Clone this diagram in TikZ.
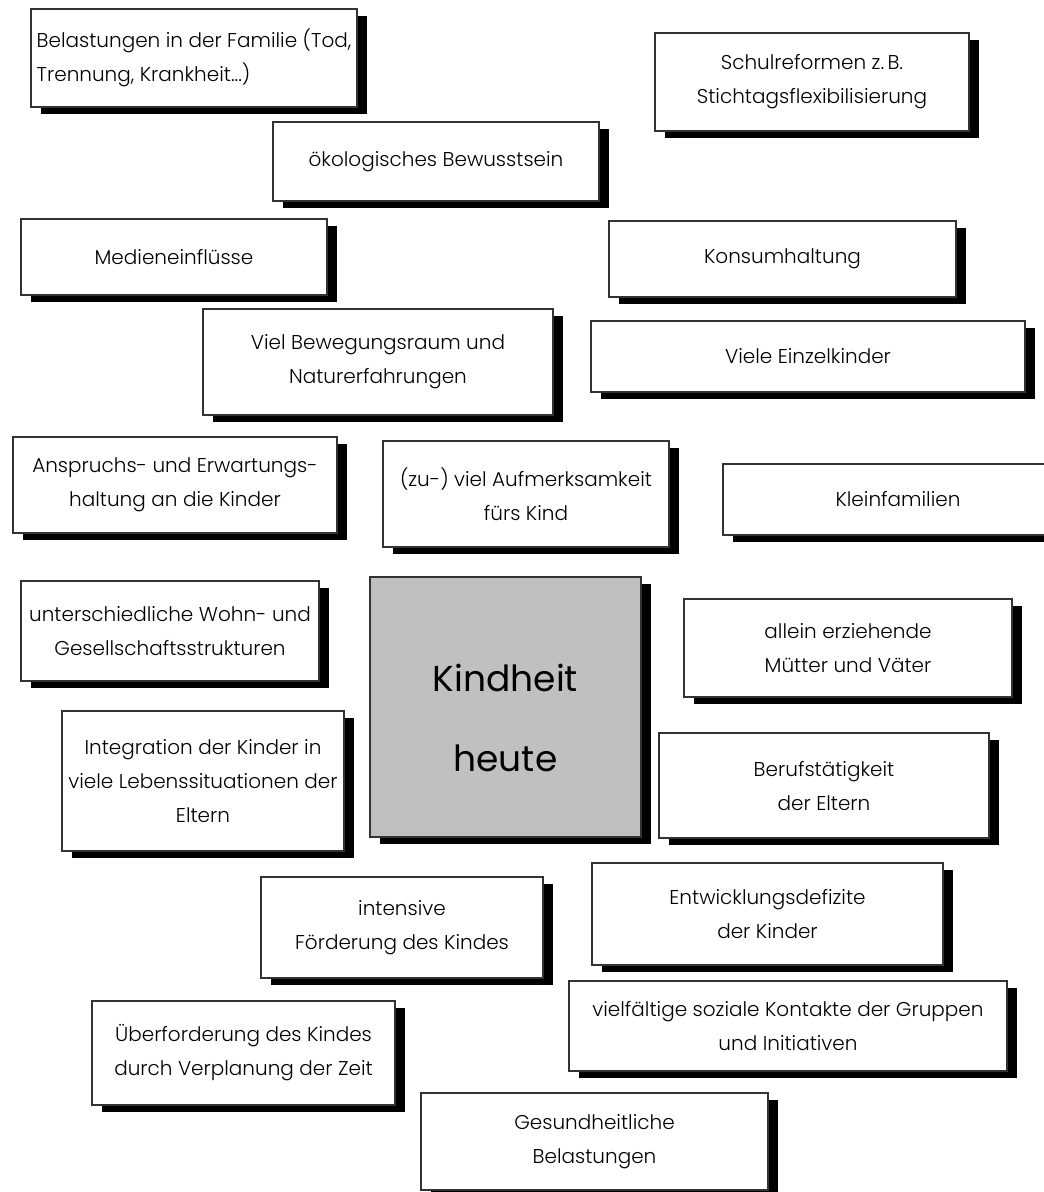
\documentclass[tikz,border=0pt]{standalone}
\usepackage{fontspec}
\setmainfont{Poppins Light}
\newfontfamily\titlefont{Poppins}
\usepackage{xcolor}
\usepackage{tikz}
\usetikzlibrary{shadows}
\definecolor{kgray}{RGB}{192,192,192}

\begin{document}
\begin{tikzpicture}[x=1pt,y=-1pt,
    card/.style={draw=black!80,fill=white,line width=1.3pt,align=center,inner sep=0pt,
      font=\fontsize{20}{34}\selectfont,
      drop shadow={shadow xshift=10pt,shadow yshift=-7pt,fill=black,opacity=1}}]
    \useasboundingbox (0,0) rectangle (1044,1192);
    \node[card,minimum width=326pt,minimum height=98pt,align=left] (familie) at (194,58) {Belastungen in der Familie (Tod,\\Trennung, Krankheit...)};
    \node[card,minimum width=314pt,minimum height=98pt] (schule) at (812,82) {Schulreformen z.\,B.\\Stichtagsflexibilisierung};
    \node[card,minimum width=326pt,minimum height=79pt] (oeko) at (436,161.5) {ökologisches Bewusstsein};
    \node[card,minimum width=306pt,minimum height=76pt] (medien) at (174,257) {Medieneinflüsse};
    \node[card,minimum width=347pt,minimum height=76pt] (konsum) at (782.5,259) {Konsumhaltung};
    \node[card,minimum width=350pt,minimum height=106pt] (bewegung) at (378,362) {Viel Bewegungsraum und\\Naturerfahrungen};
    \node[card,minimum width=434pt,minimum height=71pt] (einzel) at (808,356.5) {Viele Einzelkinder};
    \node[card,minimum width=324pt,minimum height=96pt] (anspruch) at (175,485) {Anspruchs- und Erwartungs-\\haltung an die Kinder};
    \node[card,minimum width=286pt,minimum height=106pt] (aufmerk) at (526,494) {(zu-) viel Aufmerksamkeit\\fürs Kind};
    \node[card,minimum width=350pt,minimum height=71pt] (klein) at (898,499.5) {Kleinfamilien};
    \node[card,minimum width=298pt,minimum height=100pt] (wohn) at (170,631) {unterschiedliche Wohn- und\\Gesellschaftsstrukturen};
    \node[card,fill=kgray,minimum width=271pt,minimum height=260pt] (kindheit) at (505.5,707) {};
    \node[align=center,font=\titlefont\fontsize{36}{80}\selectfont,yshift=-11pt] (kindtext) at (kindheit.center) {Kindheit\\heute};
    \node[card,minimum width=328pt,minimum height=98pt] (allein) at (848,648) {allein erziehende\\Mütter und Väter};
    \node[card,minimum width=282pt,minimum height=140pt] (integration) at (203,781) {Integration der Kinder in\\viele Lebenssituationen der\\Eltern};
    \node[card,minimum width=330pt,minimum height=105pt] (beruf) at (824,785.5) {Berufstätigkeit\\der Eltern};
    \node[card,minimum width=282pt,minimum height=101pt] (foerder) at (402,927.5) {intensive\\Förderung des Kindes};
    \node[card,minimum width=351pt,minimum height=102pt] (defizit) at (767.5,914) {Entwicklungsdefizite\\der Kinder};
    \node[card,minimum width=438pt,minimum height=90pt] (kontakte) at (788,1026) {vielfältige soziale Kontakte der Gruppen\\und Initiativen};
    \node[card,minimum width=303pt,minimum height=104pt] (ueberf) at (243.5,1053) {Überforderung des Kindes\\durch Verplanung der Zeit};
    \node[card,minimum width=347pt,minimum height=97pt] (gesund) at (594.5,1141.5) {Gesundheitliche\\Belastungen};
\end{tikzpicture}
\end{document}
